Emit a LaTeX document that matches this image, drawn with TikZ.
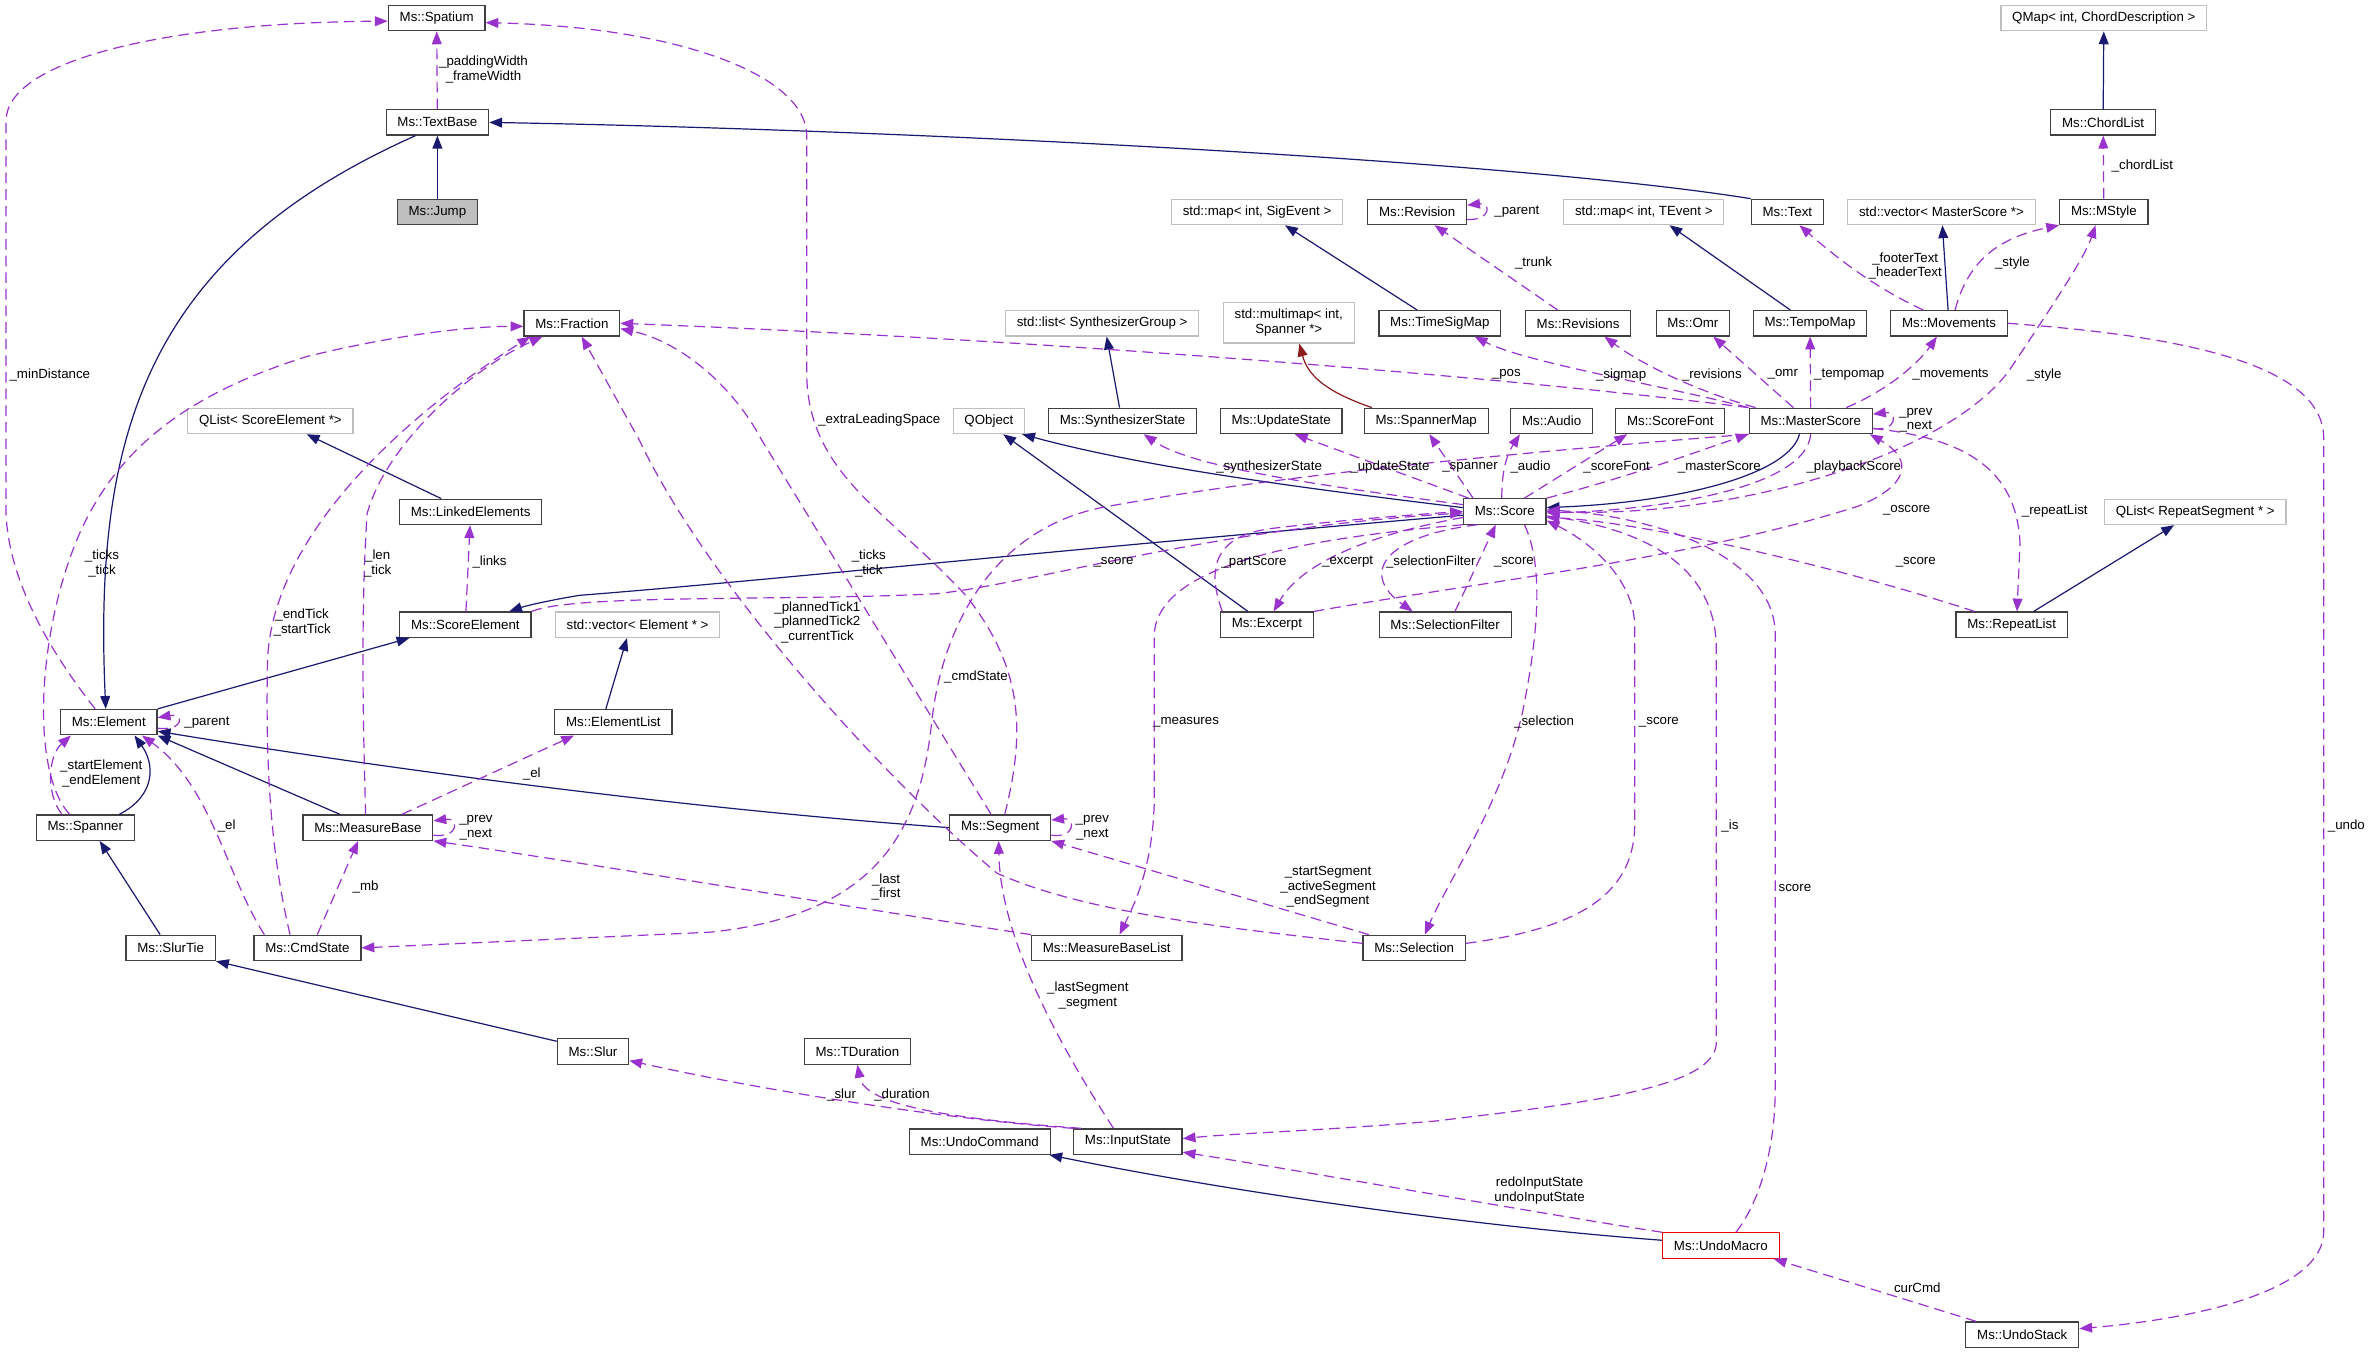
\documentclass[tikz,border=0pt]{standalone}
\usepackage{fontspec}
\setmainfont{Liberation Sans}
\usetikzlibrary{arrows.meta}
\definecolor{usecol}{HTML}{9A32CD}
\definecolor{inhcol}{HTML}{191970}
\definecolor{tplcol}{HTML}{8B1A1A}
\definecolor{extcol}{HTML}{BFBFBF}
\begin{document}
\begin{tikzpicture}[x=1pt,y=-1pt]
\tikzset{
  cls/.style={draw=black!75, line width=0.8pt, minimum height=16.8pt, inner xsep=7.5pt, inner ysep=0pt, font=\fontsize{8.8}{10}\selectfont},
  ext/.style={cls, draw=extcol},
  cur/.style={cls, fill=extcol},
  hot/.style={cls, draw=red!90!black},
  inh/.style={draw=inhcol, line width=0.8pt, -{Triangle[length=8.5pt,width=6.5pt]}},
  tmpl/.style={inh, draw=tplcol},
  member/.style={draw=usecol, line width=0.8pt, dash pattern=on 7pt off 4pt, -{Triangle[length=8.5pt,width=6.5pt]}},
  lbl/.style={inner sep=0pt, align=center, font=\fontsize{8.8}{9.6}\selectfont}
}
\useasboundingbox (0,0) rectangle (1568,896);

% classes
\draw node[cls] (spatium) at (289,12) {Ms::Spatium};
\draw node[cls] (textbase) at (289.5,81) {Ms::TextBase};
\draw node[cur] (jump) at (289.5,140.3) {Ms::Jump};
\draw node[ext] (qmap) at (1392.5,12) {QMap< int, ChordDescription >};
\draw node[cls] (chordlist) at (1392,81) {Ms::ChordList};
\draw node[ext] (sigevent) at (832,140.3) {std::map< int, SigEvent >};
\draw node[cls] (revision) at (938,140.3) {Ms::Revision};
\draw node[ext] (tevent) at (1088,140.3) {std::map< int, TEvent >};
\draw node[cls] (text) at (1183,140.3) {Ms::Text};
\draw node[ext] (msvec) at (1285,140.3) {std::vector< MasterScore *>};
\draw node[cls] (mstyle) at (1392.5,140.3) {Ms::MStyle};
\draw node[cls] (fraction) at (378.5,214) {Ms::Fraction};
\draw node[ext] (synthlist) at (729.5,214) {std::list< SynthesizerGroup >};
\draw node[ext, align=center, minimum height=27pt] (multimap) at (853,213.5) {std::multimap< int,\\Spanner *>};
\draw node[cls] (timesigmap) at (953,214) {Ms::TimeSigMap};
\draw node[cls] (revisions) at (1044.5,214) {Ms::Revisions};
\draw node[cls] (omr) at (1120.5,214) {Ms::Omr};
\draw node[cls] (tempomap) at (1198,214) {Ms::TempoMap};
\draw node[cls] (movements) at (1290,214) {Ms::Movements};
\draw node[ext] (qlistse) at (179,278.6) {QList< ScoreElement *>};
\draw node[ext] (qobject) at (654.5,278.6) {QObject};
\draw node[cls] (synthstate) at (743,278.6) {Ms::SynthesizerState};
\draw node[cls] (updatestate) at (848,278.6) {Ms::UpdateState};
\draw node[cls] (spannermap) at (944,278.6) {Ms::SpannerMap};
\draw node[cls] (audio) at (1027,278.6) {Ms::Audio};
\draw node[cls] (scorefont) at (1105.5,278.6) {Ms::ScoreFont};
\draw node[cls] (masterscore) at (1198.5,278.6) {Ms::MasterScore};
\draw node[cls] (linked) at (311.5,338.8) {Ms::LinkedElements};
\draw node[cls] (score) at (996,338.5) {Ms::Score};
\draw node[ext] (qlistrs) at (1453,338.8) {QList< RepeatSegment * >};
\draw node[cls] (scoreel) at (308,413.5) {Ms::ScoreElement};
\draw node[ext] (elvec) at (422,413.5) {std::vector< Element * >};
\draw node[cls] (excerpt) at (838.5,413.5) {Ms::Excerpt};
\draw node[cls] (selfilter) at (956.5,413.5) {Ms::SelectionFilter};
\draw node[cls] (repeatlist) at (1331.5,413.5) {Ms::RepeatList};
\draw node[cls] (element) at (72,478) {Ms::Element};
\draw node[cls] (elementlist) at (406,478) {Ms::ElementList};
\draw node[cls] (spanner) at (56.5,547.8) {Ms::Spanner};
\draw node[cls] (measurebase) at (243.5,547.8) {Ms::MeasureBase};
\draw node[cls] (segment) at (662,547.8) {Ms::Segment};
\draw node[cls] (slurtie) at (113,627.4) {Ms::SlurTie};
\draw node[cls] (cmdstate) at (203.5,627.4) {Ms::CmdState};
\draw node[cls] (mblist) at (732.5,627.4) {Ms::MeasureBaseList};
\draw node[cls] (selection) at (936,627.4) {Ms::Selection};
\draw node[cls] (slur) at (392.5,696) {Ms::Slur};
\draw node[cls] (tduration) at (567.5,696) {Ms::TDuration};
\draw node[cls] (undocmd) at (648.5,755.6) {Ms::UndoCommand};
\draw node[cls] (inputstate) at (746.5,755.6) {Ms::InputState};
\draw node[hot] (undomacro) at (1139,824.4) {Ms::UndoMacro};
\draw node[cls] (undostack) at (1338.5,883.4) {Ms::UndoStack};

% inheritance
\foreach \x/\y in {jump/textbase, chordlist/qmap, movements/msvec}{
  \draw (\x) edge[inh] (\y);
}
\draw[inh] ([xshift=-14.5pt]textbase.south) .. controls (95,170) and (62,290) .. ([xshift=-2pt]element.north);
\draw[inh] (text.north west) .. controls (1000,106) and (600,86) .. (textbase.east);
\draw[inh] ([xshift=-15pt]timesigmap.north) -- ([xshift=18.5pt]sigevent.south);
\draw[inh] ([xshift=-13pt]tempomap.north) -- ([xshift=17pt]tevent.south);
\draw[inh] ([xshift=-2pt]synthstate.north) -- ([xshift=3pt]synthlist.south);
\draw[tmpl] ([xshift=-36pt]spannermap.north) .. controls (880,260) and (866,250) .. ([xshift=7pt]multimap.south);
\draw[inh] ([yshift=2.5pt]score.west) .. controls (870,324) and (760,310) .. ([xshift=-2pt]qobject.south east);
\draw[inh] ([xshift=-12.5pt]excerpt.north) -- ([xshift=9.5pt]qobject.south);
\draw[inh] ([yshift=-2.5pt]score.west) .. controls (720,362) and (500,385) .. (384,394) .. controls (365,397) and (348,401) .. ([xshift=29pt]scoreel.north);
\draw[inh] (element.north east) -- ([xshift=-37pt]scoreel.south);
\draw[inh] ([xshift=-19.5pt]linked.north) -- ([xshift=24pt]qlistse.south);
\draw[inh] ([xshift=22.5pt]spanner.north) .. controls (104,526) and (102,505) .. ([xshift=17pt]element.south);
\draw[inh] ([xshift=-18.5pt]measurebase.north) -- (element.south east);
\draw[inh] (segment.west) .. controls (450,535) and (250,508) .. ([yshift=-6pt]element.east);
\draw[inh] ([xshift=-5pt]elementlist.north) -- ([xshift=-7pt]elvec.south);
\draw[inh] ([xshift=-7pt]slurtie.north) -- ([xshift=9.5pt]spanner.south);
\draw[inh] ([yshift=-2pt]slur.north west) -- (slurtie.south east);
\draw[inh] ([yshift=3.5pt]undomacro.west) .. controls (980,812) and (820,790) .. ([xshift=-1pt]undocmd.south east);
\draw[inh] ([xshift=14.5pt]repeatlist.north) -- ([xshift=-14pt]qlistrs.south);
\draw[inh] ([xshift=-7.5pt]masterscore.south) .. controls (1185,312) and (1120,332) .. ([yshift=2.5pt]score.east);

% members
\foreach \x/\y in {textbase/spatium, mstyle/chordlist, masterscore/tempomap, scoreel/linked}{
  \draw (\x) edge[member] (\y);
}
\draw[member] ([xshift=-9pt]element.north) .. controls (40,440) and (6,390) .. (4,340) -- (4,80) .. controls (4,40) and (110,15) .. ([yshift=-2pt]spatium.west);
\draw[member] ([xshift=-10.5pt]spanner.north) .. controls (20,510) and (25,420) .. (51,357) .. controls (75,300) and (120,262) .. (203,236) .. controls (260,222) and (310,216) .. ([yshift=-2pt]fraction.west);
\draw[member] ([xshift=-15.5pt]spanner.north) .. controls (30,525) and (32,500) .. ([xshift=-25pt]element.south);
\draw[member] ([yshift=-4pt]element.east) .. controls (122,484) and (122,472) .. ([yshift=3pt]element.east);
\draw[member] ([xshift=-28.5pt]cmdstate.north) .. controls (150,580) and (140,520) .. ([xshift=22pt]element.south);
\draw[member] ([xshift=-11.5pt]cmdstate.north) .. controls (178,560) and (176,500) .. (177,440) .. controls (178,360) and (260,280) .. ([xshift=-27.5pt]fraction.south);
\draw[member] ([xshift=-1.5pt]measurebase.north) .. controls (240,470) and (239,400) .. (243,340) .. controls (255,295) and (310,245) .. ([xshift=-19.5pt]fraction.south);
\draw[member] ([yshift=-5pt]measurebase.east) .. controls (304,555) and (304,541) .. ([yshift=4.5pt]measurebase.east);
\draw[member] ([xshift=22.5pt]measurebase.north) -- ([xshift=-26pt]elementlist.south);
\draw[member] ([xshift=6.5pt]cmdstate.north) -- ([xshift=-6.5pt]measurebase.south);
\draw[member] ([xshift=-6pt]segment.north) -- (504,291) .. controls (485,255) and (450,226) .. ([yshift=-3.5pt]fraction.east);
\draw[member] ([xshift=3pt]segment.north) .. controls (680,480) and (675,440) .. (640,395) .. controls (590,340) and (536,315) .. (534,250) -- (534,90) .. controls (534,50) and (450,18) .. ([yshift=-3pt]spatium.east);
\draw[member] ([yshift=-5pt]segment.east) .. controls (712,555) and (712,541) .. ([yshift=5pt]segment.east);
\draw[member] ([yshift=3pt]selection.west) .. controls (820,615) and (720,605) .. (660,578) .. controls (590,520) and (470,390) .. (423,291) -- ([xshift=6.5pt]fraction.south);
\draw[member] ([xshift=-30pt]selection.north) -- (segment.south east);
\draw[member] (mblist.north west) .. controls (560,600) and (380,570) .. (measurebase.south east);
\draw[member] (masterscore.south west) .. controls (1000,300) and (840,315) .. (729,336) .. controls (660,350) and (625,410) .. (617,475) .. controls (610,545) and (585,605) .. (470,617) -- (cmdstate.east);
\draw[member] (score.north east) .. controls (1080,315) and (1120,300) .. (masterscore.south west);
\draw[member] (masterscore.south) .. controls (1195,325) and (1090,338) .. ([yshift=-1pt]score.east);
\draw[member] ([yshift=4.5pt]score.west) .. controls (880,322) and (790,310) .. ([xshift=14pt]synthstate.south);
\draw[member] ([xshift=-24pt]score.north) -- ([xshift=9pt]updatestate.south);
\draw[member] ([xshift=-21pt]score.north) -- ([xshift=2pt]spannermap.south);
\draw[member] ([xshift=-2pt]score.north) .. controls (994,315) and (996,303) .. ([xshift=-21pt]audio.south);
\draw[member] ([xshift=13pt]score.north) -- ([xshift=-28.5pt]scorefont.south);
\draw[member] ([yshift=-4pt]score.west) .. controls (900,355) and (860,375) .. ([xshift=4.5pt]excerpt.north);
\draw[member] ([xshift=-29.5pt]excerpt.north) .. controls (798,375) and (805,355) .. (840,350) .. controls (880,345) and (930,341) .. (score.west);
\draw[member] ([xshift=-18pt]score.south) .. controls (915,355) and (900,380) .. ([xshift=-21.5pt]selfilter.north);
\draw[member] ([xshift=6.5pt]selfilter.north) -- ([xshift=-6pt]score.south);
\draw[member] ([xshift=13pt]score.south) .. controls (1022,375) and (1018,420) .. (1008,470) .. controls (995,530) and (960,580) .. ([xshift=7pt]selection.north);
\draw[member] ([yshift=3pt]selection.east) .. controls (1040,615) and (1082,595) .. (1082,545) -- (1082,415) .. controls (1082,385) and (1055,360) .. ([yshift=-6pt]score.east);
\draw[member] ([yshift=-3pt]score.east) .. controls (1090,350) and (1136,375) .. (1136,430) -- (1136,690) .. controls (1136,720) and (1050,730) .. (950,742) .. controls (880,748) and (820,750) .. ([yshift=2pt]inputstate.east);
\draw[member] ([xshift=10pt]undomacro.north) .. controls (1165,795) and (1175,760) .. (1175,720) -- (1175,420) .. controls (1175,370) and (1100,342) .. ([yshift=1pt]score.east);
\draw[member] (undomacro.north west) .. controls (1000,800) and (880,778) .. ([yshift=-7pt]inputstate.east);
\draw[member] ([xshift=-30.5pt]undostack.north) -- ([xshift=-4pt]undomacro.south east);
\draw[member] (movements.east) .. controls (1440,222) and (1538,240) .. (1538,290) -- (1538,815) .. controls (1538,860) and (1430,875) .. ([yshift=4pt]undostack.east);
\draw[member] ([xshift=-17pt]movements.north) .. controls (1240,190) and (1215,170) .. ([xshift=8pt]text.south);
\draw[member] ([xshift=4pt]movements.north) .. controls (1302,175) and (1320,158) .. (mstyle.south west);
\draw[member] (score.east) .. controls (1150,345) and (1290,300) .. (1330,245) .. controls (1360,200) and (1380,170) .. ([xshift=-5.5pt]mstyle.south);
\draw[member] (excerpt.north east) .. controls (980,385) and (1120,370) .. (1230,335) .. controls (1262,322) and (1268,305) .. ([xshift=-2pt]masterscore.south east);
\draw[member] ([yshift=-5pt]masterscore.east) .. controls (1300,290) and (1335,310) .. (1337,360) -- ([xshift=3.5pt]repeatlist.north);
\draw[member] ([yshift=-5pt]masterscore.east) .. controls (1256,286) and (1256,272) .. ([yshift=4.5pt]masterscore.east);
\draw[member] ([xshift=-24.5pt]repeatlist.north) .. controls (1200,370) and (1080,345) .. ([yshift=-4pt]score.east);
\draw[member] (masterscore.north west) .. controls (1100,255) and (1010,240) .. ([xshift=23pt]timesigmap.south);
\draw[member] ([xshift=-36.5pt]masterscore.north) .. controls (1120,258) and (1085,240) .. ([xshift=17.5pt]revisions.south);
\draw[member] ([xshift=-11.5pt]masterscore.north) -- ([xshift=13.5pt]omr.south);
\draw[member] ([xshift=23.5pt]masterscore.north) .. controls (1250,258) and (1270,240) .. ([xshift=-8pt]movements.south);
\draw[member] (masterscore.north west) .. controls (1000,250) and (700,225) .. (fraction.east);
\draw[member] ([xshift=-13.5pt]revisions.north) -- ([xshift=11.5pt]revision.south);
\draw[member] ([yshift=-5pt]revision.east) .. controls (987,146) and (987,134) .. ([yshift=4.5pt]revision.east);
\draw[member] (inputstate.north west) .. controls (640,742) and (520,725) .. ([yshift=-6pt]slur.east);
\draw[member] ([xshift=-31pt]inputstate.north) .. controls (620,740) and (572,730) .. (tduration.south);
\draw[member] ([xshift=-9.5pt]inputstate.north) .. controls (700,690) and (662,620) .. ([xshift=-1pt]segment.south);
\draw[member] (scoreel.north east) .. controls (380,393) and (520,398) .. (620,393) .. controls (690,385) and (800,350) .. ([yshift=-1pt]score.west);
\draw[member] (score.south west) .. controls (880,355) and (766,370) .. (764,420) -- (764,530) .. controls (763,575) and (750,600) .. ([xshift=8.5pt]mblist.north);

% labels
\draw node[lbl] (l_pad) at (320,46) {\_paddingWidth\\\_frameWidth};
\draw node[lbl] (l_mindist) at (33,248) {\_minDistance};
\draw node[lbl] (l_sptick) at (67.5,373) {\_ticks\\\_tick};
\draw node[lbl] (l_startel) at (67,512) {\_startElement\\\_endElement};
\draw node[lbl] (l_elpar) at (137,478) {\_parent};
\draw node[lbl] (l_cmdel) at (150,547) {\_el};
\draw node[lbl] (l_cmdtick) at (200,412) {\_endTick\\\_startTick};
\draw node[lbl] (l_mblen) at (250,373) {\_len\\\_tick};
\draw node[lbl] (l_links) at (324,372) {\_links};
\draw node[lbl] (l_mbel) at (352,512) {\_el};
\draw node[lbl] (l_mbprev) at (315,548) {\_prev\\\_next};
\draw node[lbl] (l_mb) at (242,587) {\_mb};
\draw node[lbl] (l_segtick) at (575,373) {\_ticks\\\_tick};
\draw node[lbl] (l_planned) at (541,412) {\_plannedTick1\\\_plannedTick2\\\_currentTick};
\draw node[lbl] (l_extra) at (582,278) {\_extraLeadingSpace};
\draw node[lbl] (l_cmdstate) at (646,448) {\_cmdState};
\draw node[lbl] (l_sescore) at (737,372) {\_score};
\draw node[lbl] (l_measures) at (785,478) {\_measures};
\draw node[lbl] (l_synth) at (840,309) {\_synthesizerState};
\draw node[lbl] (l_update) at (920,309) {\_updateState};
\draw node[lbl] (l_spanner) at (973,309) {\_spanner};
\draw node[lbl] (l_audio) at (1013,309) {\_audio};
\draw node[lbl] (l_font) at (1070,309) {\_scoreFont};
\draw node[lbl] (l_master) at (1138,309) {\_masterScore};
\draw node[lbl] (l_playback) at (1227,309) {\_playbackScore};
\draw node[lbl] (l_sstyle) at (1353,248) {\_style};
\draw node[lbl] (l_mvstyle) at (1332,174) {\_style};
\draw node[lbl] (l_footer) at (1261,176) {\_footerText\\\_headerText};
\draw node[lbl] (l_chord) at (1418,110) {\_chordList};
\draw node[lbl] (l_trunk) at (1015,174) {\_trunk};
\draw node[lbl] (l_revpar) at (1004,140) {\_parent};
\draw node[lbl] (l_pos) at (997,248) {\_pos};
\draw node[lbl] (l_sigmap) at (1073,248) {\_sigmap};
\draw node[lbl] (l_revisions) at (1133,248) {\_revisions};
\draw node[lbl] (l_omr) at (1180,248) {\_omr};
\draw node[lbl] (l_tempo) at (1224,248) {\_tempomap};
\draw node[lbl] (l_movements) at (1291,248) {\_movements};
\draw node[lbl] (l_msprev) at (1268,278) {\_prev\\\_next};
\draw node[lbl] (l_repeat) at (1360,338) {\_repeatList};
\draw node[lbl] (l_rlscore) at (1268,372) {\_score};
\draw node[lbl] (l_oscore) at (1262,338) {\_oscore};
\draw node[lbl] (l_part) at (830,372) {\_partScore};
\draw node[lbl] (l_excerpt) at (892,372) {\_excerpt};
\draw node[lbl] (l_selfilter) at (947,372) {\_selectionFilter};
\draw node[lbl] (l_sfscore) at (1002,372) {\_score};
\draw node[lbl] (l_selection) at (1022,478) {\_selection};
\draw node[lbl] (l_selscore) at (1098,478) {\_score};
\draw node[lbl] (l_is) at (1145,547) {\_is};
\draw node[lbl] (l_score) at (1188,588) {score};
\draw node[lbl] (l_segments) at (879,587) {\_startSegment\\\_activeSegment\\\_endSegment};
\draw node[lbl] (l_first) at (586.5,587) {\_last\\\_first};
\draw node[lbl] (l_segprev) at (723,548) {\_prev\\\_next};
\draw node[lbl] (l_lastseg) at (720,659) {\_lastSegment\\\_segment};
\draw node[lbl] (l_slur) at (557,725) {\_slur};
\draw node[lbl] (l_duration) at (597,725) {\_duration};
\draw node[lbl] (l_redo) at (1019,788) {redoInputState\\undoInputState};
\draw node[lbl] (l_curcmd) at (1269,852) {curCmd};
\draw node[lbl] (l_undo) at (1553,547) {\_undo};
\end{tikzpicture}
\end{document}
